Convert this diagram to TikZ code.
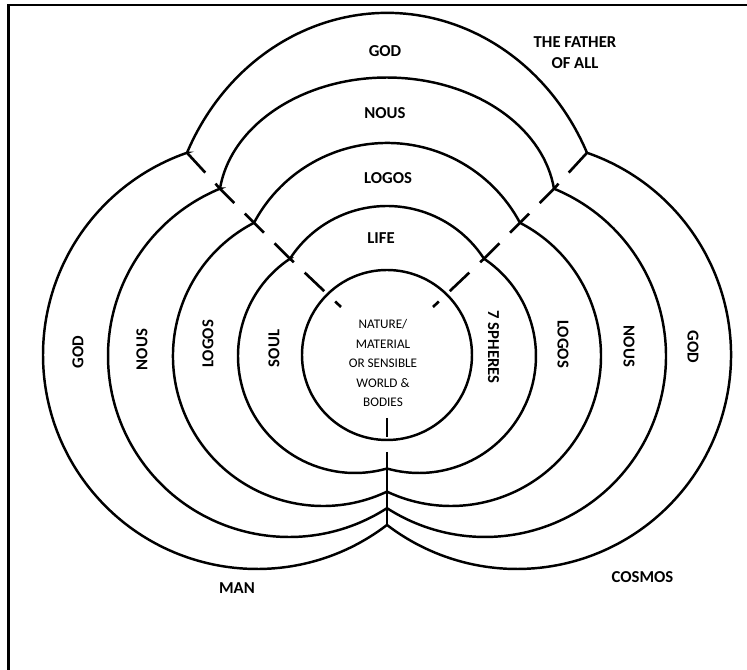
\documentclass[tikz,border=0pt]{standalone}
\usepackage{fontspec}
\setmainfont{Carlito}
\usepackage{tikz}

\begin{document}
\begin{tikzpicture}[
    %% Styles
    ring/.style={line width=1.4pt},
    cutline/.style={line width=1.5pt, dash pattern=on 0.54cm off 0.3cm},
    axisline/.style={line width=1.5pt, dash pattern=on 0.38cm off 0.3cm on 1.6cm},
    lbl/.style={font=\fontsize{9.5}{12}\selectfont\bfseries, inner sep=0pt},
    innerLbl/.style={font=\fontsize{7.5}{11.1}\selectfont, align=center, inner sep=0pt}
  ]

  \useasboundingbox (-7.74,-6.30) rectangle (7.20,7.10);

  %% ── Frame (top and left edges only) ──────────────────────
  \draw[line width=1.5pt] (7.20,7.00) -| (-7.57,-6.30);

  %% ── Junctions where top arcs meet the side lobes ─────────
  \coordinate (jGodL)   at (-4.00, 4.0445);
  \coordinate (jGodR)   at ( 4.00, 4.0445);
  \coordinate (jNousL)  at (-3.34, 3.3266);
  \coordinate (jNousR)  at ( 3.34, 3.3266);
  \coordinate (jLogosL) at (-2.66, 2.6438);
  \coordinate (jLogosR) at ( 2.66, 2.6438);
  \coordinate (jSoulL)  at (-1.94, 1.9257);
  \coordinate (jSoulR)  at ( 1.94, 1.9257);
  \coordinate (eL)      at (-0.92, 0.96);
  \coordinate (eR)      at ( 0.92, 0.96);
  \coordinate (vTop)    at (0,-1.26);
  \coordinate (cGod)    at (0,-3.40);

  %% ── Ring 1: GOD ──────────────────────────────────────────
  \draw[ring] (jGodL)
    arc[start angle=155.02, end angle=24.98, x radius=4.4128, y radius=4.8418]
    arc[start angle=70.91, end angle=-127.41, radius=4.28]
    arc[start angle=-52.59, end angle=-250.91, radius=4.28] -- cycle;

  %% ── Ring 2: NOUS ─────────────────────────────────────────
  \draw[ring] (jNousL)
    arc[start angle=172.64, end angle=7.36, x radius=3.3677, y radius=2.5494]
    arc[start angle=67.59, end angle=-122.78, radius=3.62]
    arc[start angle=-57.22, end angle=-247.59, radius=3.62] -- cycle;

  %% ── Ring 3: LOGOS ────────────────────────────────────────
  \draw[ring] (jLogosL)
    arc[start angle=151.94, end angle=28.06, radius=3.0143]
    arc[start angle=62.61, end angle=-115.26, radius=3.0]
    arc[start angle=-64.74, end angle=-242.61, radius=3.0] -- cycle;

  %% ── Ring 4: LIFE / SOUL / 7 SPHERES ──────────────────────
  \draw[ring] (jSoulL)
    arc[start angle=147.04, end angle=32.96, radius=2.312]
    arc[start angle=56.25, end angle=-105.87, radius=2.34]
    arc[start angle=-74.13, end angle=-236.25, radius=2.34] -- cycle;

  %% ── Core: Nature ─────────────────────────────────────────
  \node[ring, draw, circle, minimum size=3.4cm, inner sep=0pt] (nature) at (0,0) {};
  \node[innerLbl] (natureTxt) at (-0.08,-0.16)
    {NATURE/\\MATERIAL\\OR SENSIBLE\\WORLD \&\\BODIES};

  %% ── Split lines ──────────────────────────────────────────
  \draw[cutline] (jGodL) -- (jNousL) -- (jLogosL) -- (jSoulL) -- (eL);
  \draw[cutline] (jGodR) -- (jNousR) -- (jLogosR) -- (jSoulR) -- (eR);
  \draw[axisline] (vTop) -- (cGod);

  %% ── Labels: top arcs ─────────────────────────────────────
  \node[lbl] (godTop)   at (-0.04, 6.08) {GOD};
  \node[lbl] (nousTop)  at (-0.04, 4.84) {NOUS};
  \node[lbl] (logosTop) at ( 0.02, 3.54) {LOGOS};
  \node[lbl] (lifeTop)  at (-0.12, 2.34) {LIFE};
  \node[lbl, align=center] (father) at (3.76, 6.05) {THE FATHER\\OF ALL};

  %% ── Labels: left lobes (man) ─────────────────────────────
  \node[lbl, rotate=90] (godL)   at (-6.18, 0.06) {GOD};
  \node[lbl, rotate=90] (nousL)  at (-4.90, 0.11) {NOUS};
  \node[lbl, rotate=90] (logosL) at (-3.58, 0.22) {LOGOS};
  \node[lbl, rotate=90] (soulL)  at (-2.26, 0.13) {SOUL};
  \node[lbl] (man) at (-3.00,-4.67) {MAN};

  %% ── Labels: right lobes (cosmos) ─────────────────────────
  \node[lbl, rotate=-90] (spheresR) at (2.13, 0.16) {7 SPHERES};
  \node[lbl, rotate=-90] (logosR)   at (3.52, 0.22) {LOGOS};
  \node[lbl, rotate=-90] (nousR)    at (4.84, 0.17) {NOUS};
  \node[lbl, rotate=-90] (godR)     at (6.12, 0.16) {GOD};
  \node[lbl] (cosmos) at (5.11,-4.45) {COSMOS};

\end{tikzpicture}
\end{document}
